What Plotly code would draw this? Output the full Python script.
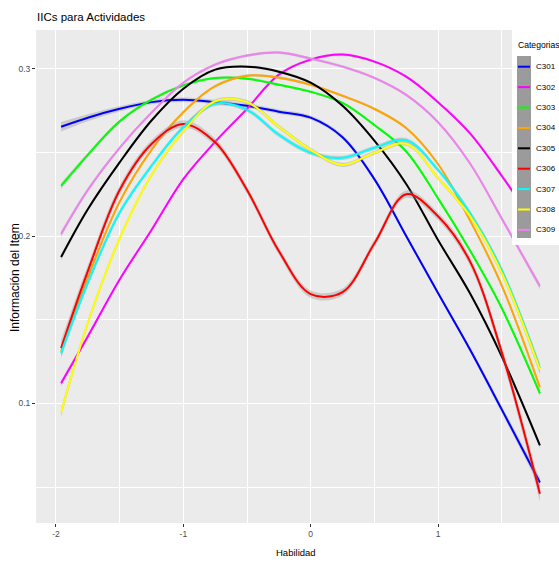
import plotly.graph_objects as go

# Ability grid at which each item information curve is sampled
habilidad = [-1.96, -1.75, -1.5, -1.25, -1.0, -0.75, -0.5, -0.25, 0.0,
             0.25, 0.5, 0.75, 1.0, 1.25, 1.5, 1.8]

categorias = ["C301", "C302", "C303", "C304", "C305", "C306", "C307", "C308", "C309"]

c301 = [0.2653, 0.2707, 0.2760, 0.2800, 0.2814, 0.2800, 0.2778, 0.2743, 0.2707,
        0.2590, 0.2340, 0.2000, 0.1659, 0.1323, 0.0964, 0.0527]
c302 = [0.1120, 0.1400, 0.1740, 0.2036, 0.2340, 0.2563, 0.2760, 0.2964, 0.3054,
        0.3084, 0.3042, 0.2952, 0.2800, 0.2615, 0.2360, 0.2025]
c303 = [0.2299, 0.2485, 0.2685, 0.2815, 0.2900, 0.2944, 0.2940, 0.2904, 0.2862,
        0.2795, 0.2663, 0.2505, 0.2225, 0.1915, 0.1570, 0.1060]
c304 = [0.1310, 0.1750, 0.2205, 0.2515, 0.2740, 0.2895, 0.2958, 0.2946, 0.2904,
        0.2838, 0.2760, 0.2645, 0.2430, 0.2095, 0.1705, 0.1096]
c305 = [0.1874, 0.2160, 0.2440, 0.2690, 0.2880, 0.2994, 0.3012, 0.2982, 0.2916,
        0.2778, 0.2570, 0.2311, 0.1976, 0.1659, 0.1281, 0.0749]
c306 = [0.1330, 0.1790, 0.2275, 0.2550, 0.2670, 0.2560, 0.2275, 0.1910, 0.1653,
        0.1665, 0.1955, 0.2250, 0.2118, 0.1850, 0.1306, 0.0460]
c307 = [0.1300, 0.1720, 0.2140, 0.2419, 0.2650, 0.2790, 0.2754, 0.2605, 0.2497,
        0.2467, 0.2527, 0.2572, 0.2395, 0.2138, 0.1796, 0.1210]
c308 = [0.0946, 0.1480, 0.1985, 0.2365, 0.2625, 0.2805, 0.2800, 0.2653, 0.2515,
        0.2425, 0.2497, 0.2551, 0.2347, 0.2120, 0.1780, 0.1200]
c309 = [0.2012, 0.2275, 0.2527, 0.2737, 0.2916, 0.3024, 0.3078, 0.3096, 0.3060,
        0.3012, 0.2945, 0.2843, 0.2680, 0.2435, 0.2105, 0.1700]

series = [c301, c302, c303, c304, c305, c306, c307, c308, c309]

colores = ["#0000FF", "#FF00FF", "#00FF00", "#FFA500", "#000000",
           "#FF0000", "#00FFFF", "#FFFF00", "#EE82EE"]

# Half-width of each smoother's confidence band, and how it widens at the ends
banda = [0.0013, 0.0008, 0.0008, 0.0008, 0.0008, 0.0022, 0.0013, 0.0012, 0.0008]
perfil_banda = [2.2, 1.6, 1.2, 1.0, 1.0, 1.0, 1.0, 1.0, 1.0,
                1.0, 1.0, 1.0, 1.0, 1.2, 1.6, 2.2]

x_ticks = [-2, -1, 0, 1]
x_minor = [-1.5, -0.5, 0.5, 1.5]
y_ticks = [0.1, 0.2, 0.3]
y_minor = [0.05, 0.15, 0.25]

W, H = 559, 563
ML, MR, MT, MB = 36, 0, 30, 40
PW, PH = W - ML - MR, H - MT - MB

FONT = "Liberation Sans, Arial, sans-serif"


def paper_x(px):
    return (px - ML) / PW


def paper_y(py):
    return (H - MB - py) / PH


fig = go.Figure()

for nombre, ys, color, hw in zip(categorias, series, colores, banda):
    lower = [y - hw * p for y, p in zip(ys, perfil_banda)]
    upper = [y + hw * p for y, p in zip(ys, perfil_banda)]
    fig.add_trace(go.Scatter(x=habilidad, y=lower, mode="lines",
                             line=dict(width=0, shape="spline"),
                             hoverinfo="skip", showlegend=False))
    fig.add_trace(go.Scatter(x=habilidad, y=upper, mode="lines",
                             line=dict(width=0, shape="spline"),
                             fill="tonexty", fillcolor="rgba(153,153,153,0.4)",
                             hoverinfo="skip", showlegend=False))
    fig.add_trace(go.Scatter(x=habilidad, y=ys, mode="lines", name=nombre,
                             line=dict(color=color, width=2, shape="spline"),
                             showlegend=False))

axis_common = dict(
    showline=False, zeroline=False, showgrid=True, gridcolor="white", gridwidth=1.3,
    ticks="outside", ticklen=3, tickwidth=1, tickcolor="#333333",
    tickfont=dict(family=FONT, size=8.5, color="#4D4D4D"),
)

fig.update_xaxes(range=[-2.157, 1.950], tickvals=x_ticks,
                 ticktext=[str(v) for v in x_ticks],
                 minor=dict(tickvals=x_minor, showgrid=True, gridcolor="white",
                            gridwidth=0.7, ticklen=0),
                 **axis_common)
fig.update_yaxes(range=[0.0285, 0.3231], tickvals=y_ticks,
                 ticktext=[str(v) for v in y_ticks],
                 minor=dict(tickvals=y_minor, showgrid=True, gridcolor="white",
                            gridwidth=0.7, ticklen=0),
                 **axis_common)

shapes = []
annotations = []

# Legend box with the grey key column, drawn over the panel
shapes.append(dict(type="rect", xref="paper", yref="paper", layer="above",
                   x0=paper_x(512), x1=paper_x(562), y0=paper_y(245), y1=paper_y(29),
                   fillcolor="white", line=dict(width=0)))
shapes.append(dict(type="rect", xref="paper", yref="paper", layer="above",
                   x0=paper_x(517), x1=paper_x(531), y0=paper_y(238), y1=paper_y(56),
                   fillcolor="#9B9B9B", line=dict(width=0)))
annotations.append(dict(text="Categorias", xref="paper", yref="paper",
                        x=paper_x(515.5), y=paper_y(45), xanchor="left", yanchor="middle",
                        showarrow=False,
                        font=dict(family=FONT, size=8.6, color="black")))
for i, (nombre, color) in enumerate(zip(categorias, colores)):
    yc = 66.7 + i * 20.4
    shapes.append(dict(type="line", xref="paper", yref="paper", layer="above",
                       x0=paper_x(518), x1=paper_x(530), y0=paper_y(yc), y1=paper_y(yc),
                       line=dict(color=color, width=2)))
    annotations.append(dict(text=nombre, xref="paper", yref="paper",
                            x=paper_x(534), y=paper_y(yc), xanchor="left",
                            yanchor="middle", showarrow=False,
                            font=dict(family=FONT, size=8, color="black")))

# Title and axis titles
annotations.append(dict(text="IICs para Actividades", xref="paper", yref="paper",
                        x=paper_x(35), y=paper_y(17), xanchor="left", yanchor="middle",
                        showarrow=False, font=dict(family=FONT, size=11.5, color="black")))
annotations.append(dict(text="Habilidad", xref="paper", yref="paper",
                        x=paper_x(296), y=paper_y(552), xanchor="center", yanchor="middle",
                        showarrow=False, font=dict(family=FONT, size=9.5, color="black")))
annotations.append(dict(text="Información del Item", xref="paper", yref="paper",
                        x=paper_x(15), y=paper_y(278), xanchor="center", yanchor="middle",
                        textangle=-90, showarrow=False,
                        font=dict(family=FONT, size=12, color="black")))

fig.update_layout(
    width=W, height=H,
    margin=dict(l=ML, r=MR, t=MT, b=MB),
    paper_bgcolor="white", plot_bgcolor="#EBEBEB",
    showlegend=False,
    shapes=shapes, annotations=annotations,
)

fig.write_html("out.html")
